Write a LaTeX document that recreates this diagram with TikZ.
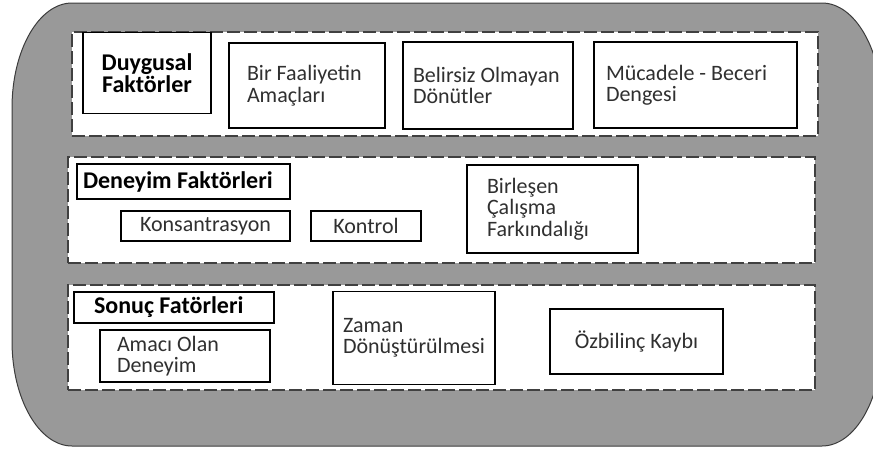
\documentclass[tikz,border=0pt]{standalone}
\usepackage{fontspec}
\setmainfont{Carlito}
\usepackage{tikz}

\definecolor{panelgray}{HTML}{999999}
\definecolor{rimgray}{HTML}{3C3C3C}
\definecolor{dashgray}{HTML}{404040}
\definecolor{inkgray}{HTML}{303030}

\newcommand{\boxfnt}{\fontsize{22}{21.5}\selectfont}
\newcommand{\headfnt}{\fontsize{24}{22}\selectfont\bfseries}

\tikzset{
  group/.style={draw=dashgray, fill=white, line width=1.4pt, dash pattern=on 13pt off 4pt, inner sep=0pt},
  item/.style={draw=black, fill=white, line width=1.3pt, inner xsep=2pt, inner ysep=0pt, font=\boxfnt, text=inkgray},
  head/.style={item, font=\headfnt, text=black},
}

\begin{document}
\begin{tikzpicture}[x=1pt,y=-1pt]
      \useasboundingbox (0,0) rectangle (873,448);

      % outer panel
      \draw[fill=panelgray, draw=rimgray, line width=1pt]
        (72,3) -- (822,3) .. controls (855,3) and (882,50) .. (882,108)
        -- (882,341) .. controls (882,399) and (855,446) .. (822,446)
        -- (72,446) .. controls (39,446) and (12,399) .. (12,341)
        -- (12,108) .. controls (12,50) and (39,3) .. (72,3) -- cycle;

      % dashed groups
      \node[group, minimum width=746pt, minimum height=104pt] (emotion) at (445,84) {};
      \node[group, minimum width=747pt, minimum height=106pt] (experience) at (441.5,210) {};
      \node[group, minimum width=747pt, minimum height=105pt] (outcome) at (441.5,337.5) {};

      % emotion row
      \node[head, minimum width=128pt, minimum height=81pt, align=center] (emohead) at (147,73) {Duygusal\\Faktörler};
      \node[item, minimum width=156pt, minimum height=85pt, text width=120pt, align=flush left] (goals) at (307,85.5) {Bir Faaliyetin\\Amaçları};
      \node[item, minimum width=170pt, minimum height=87pt, text width=150pt, align=flush left] (feedback) at (488,85.5) {Belirsiz Olmayan\\Dönütler};
      \node[item, minimum width=203pt, minimum height=86pt, text width=179pt, align=flush left] (balance) at (695.5,85) {Mücadele - Beceri\\Dengesi};

      % experience row
      \node[head, minimum width=213pt, minimum height=35pt, text width=201pt, align=flush left] (exphead) at (183.5,181.5) {Deneyim Faktörleri};
      \node[item, minimum width=169pt, minimum height=30pt] (focus) at (205.5,226) {Konsantrasyon};
      \node[item, minimum width=110pt, minimum height=30pt] (control) at (366,226) {Kontrol};
      \node[item, minimum width=171pt, minimum height=88pt, text width=131pt, align=flush left] (merge) at (552.5,209) {Birleşen\\Çalışma\\Farkındalığı};

      % outcome row
      \node[head, minimum width=200pt, minimum height=31pt, text width=160pt, align=flush left] (outhead) at (174,307.5) {Sonuç Fatörleri};
      \node[item, minimum width=170pt, minimum height=52pt, text width=136pt, align=flush left] (purpose) at (185,356) {Amacı Olan\\Deneyim};
      \node[item, minimum width=162pt, minimum height=93pt, text width=142pt, align=flush left] (time) at (414,338) {Zaman\\Dönüştürülmesi};
      \node[item, minimum width=173pt, minimum height=65pt] (self) at (636.5,341.5) {Özbilinç Kaybı};
    \end{tikzpicture}
\end{document}
